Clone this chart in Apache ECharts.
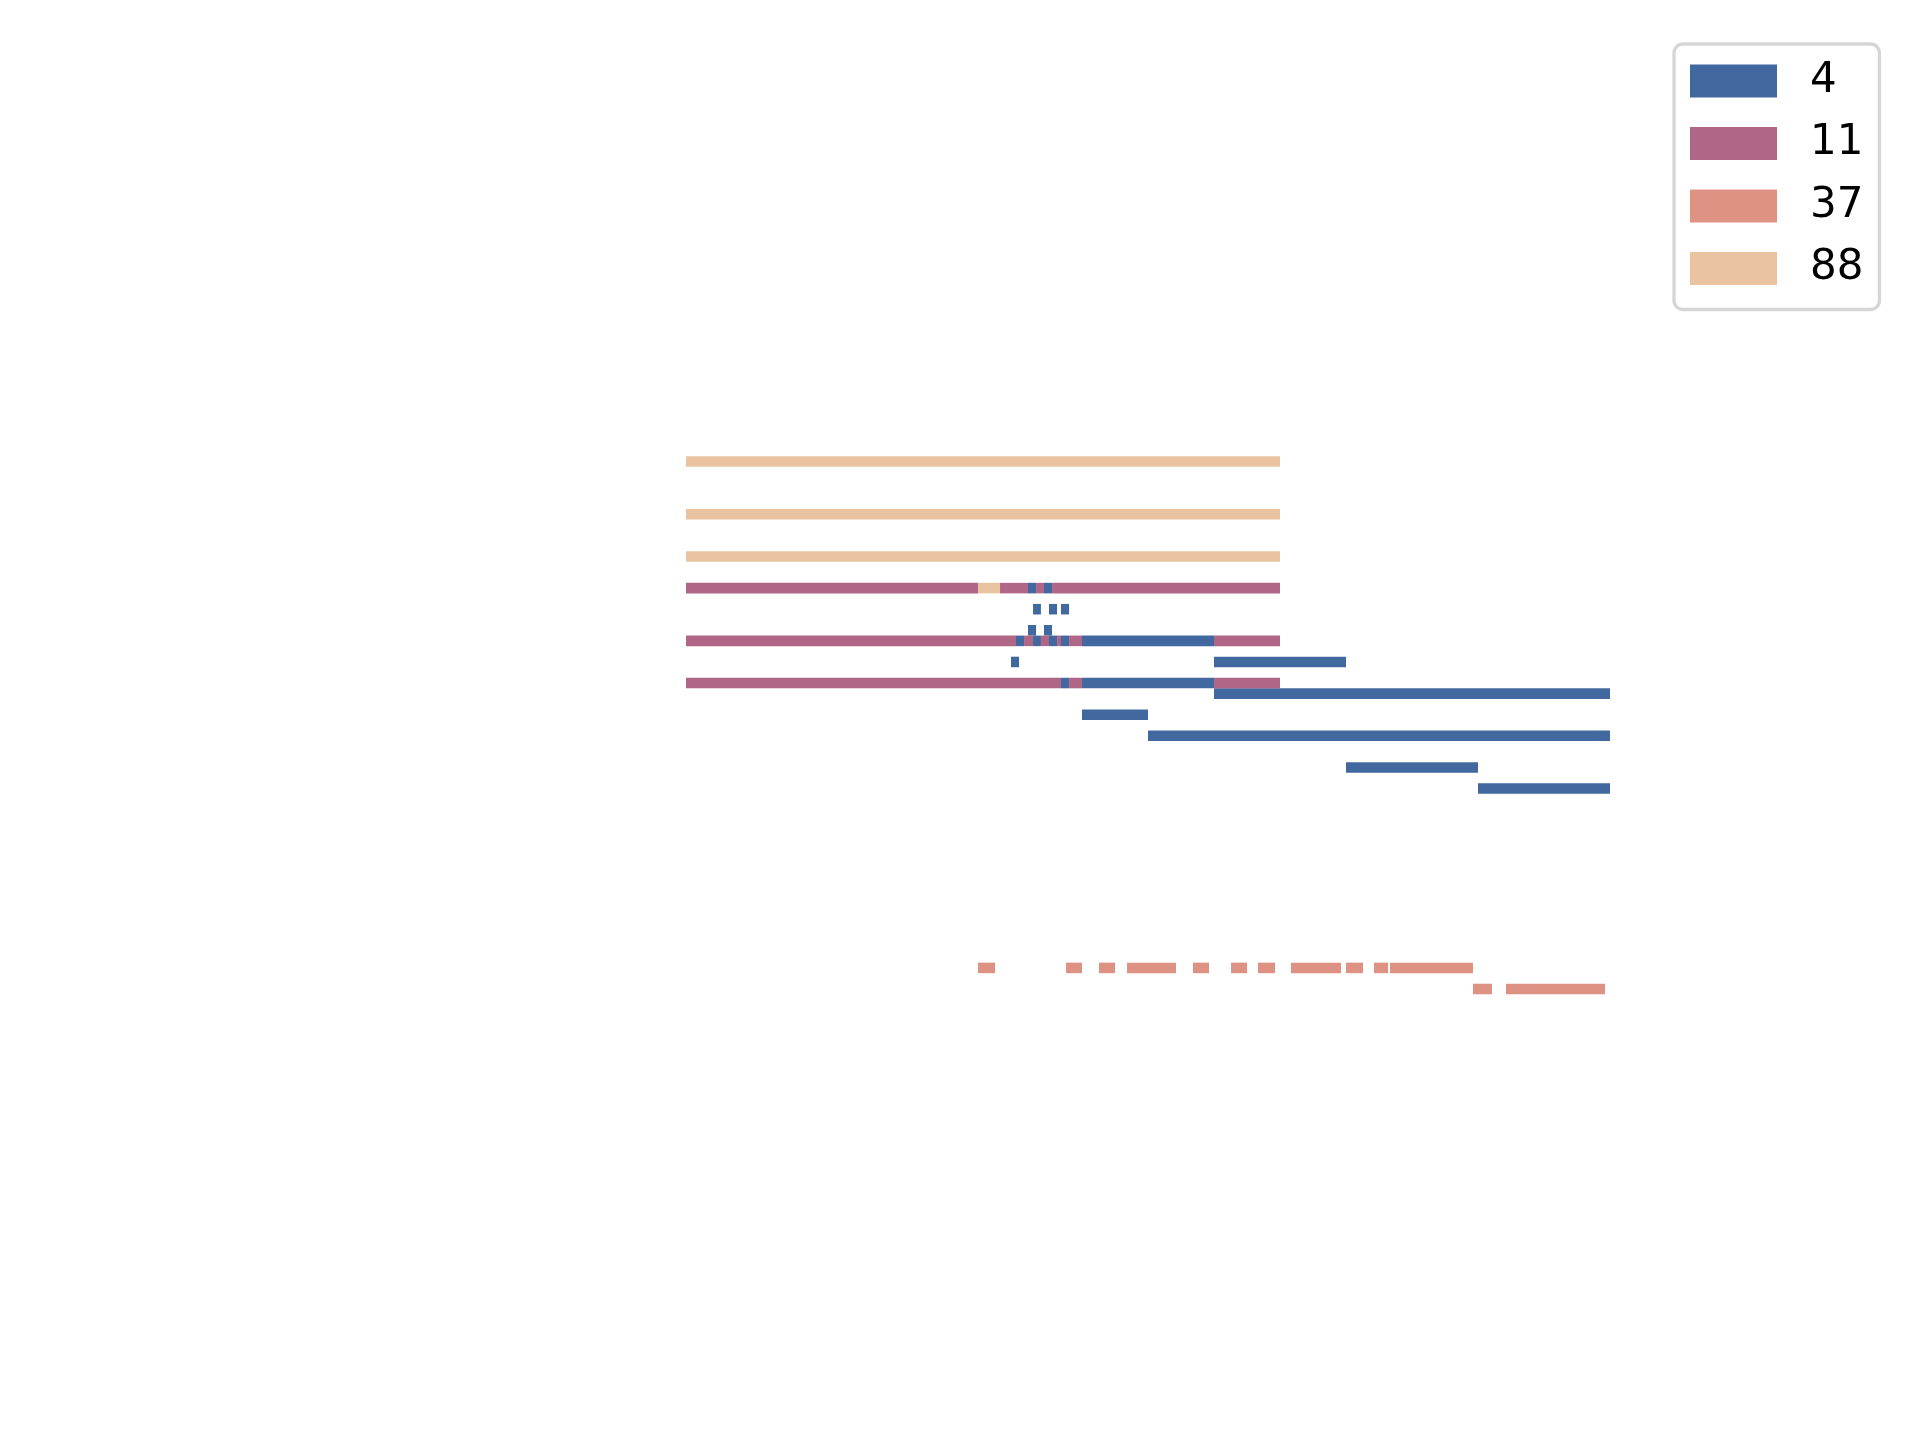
<!DOCTYPE html>
<html>
<head>
<meta charset="utf-8">
<script src="https://cdn.jsdelivr.net/npm/echarts@6/dist/echarts.min.js"></script>
<style>
html,body{margin:0;padding:0;background:#fff;}
#chart{width:1920px;height:1440px;}
</style>
</head>
<body>
<div id="chart"></div>
<script>
// Legend labels / categories
const categories = ['4', '11', '37', '88'];
const colors = ['#42699f', '#b06686', '#de9283', '#eac3a0'];

// Segments: [start, end, row]
const seg4 = [
  [25.91, 26.52, 12], [27.12, 27.73, 12],
  [26.29, 26.89, 14], [27.5, 28.11, 14], [28.41, 29.02, 14],
  [25.91, 26.52, 16], [27.12, 27.73, 16],
  [25.0, 25.61, 17], [26.29, 26.89, 17], [27.5, 28.11, 17], [28.41, 29.02, 17], [30, 40, 17],
  [24.62, 25.23, 19], [40, 50, 19],
  [28.41, 29.02, 21], [30, 40, 21],
  [40, 70, 22],
  [30, 35, 24],
  [35, 70, 26],
  [50, 60, 29],
  [60, 70, 31]
];
const seg11 = [
  [0, 22.12, 12], [23.79, 25.91, 12], [26.52, 27.12, 12], [27.73, 45, 12],
  [0, 25.0, 17], [25.61, 26.29, 17], [26.89, 27.5, 17], [28.11, 28.41, 17], [29.02, 30, 17], [40, 45, 17],
  [0, 28.41, 21], [29.02, 30, 21], [40, 45, 21]
];
const seg37 = [
  [22.12, 23.41, 48], [28.79, 30, 48], [31.29, 32.5, 48], [33.41, 37.12, 48],
  [38.41, 39.62, 48], [41.29, 42.5, 48], [43.33, 44.62, 48], [45.83, 49.62, 48],
  [50, 51.29, 48], [52.12, 53.18, 48], [53.33, 59.62, 48],
  [59.62, 61.06, 50], [62.12, 69.62, 50]
];
const seg88 = [
  [0, 45, 0], [0, 45, 5], [0, 45, 9], [22.12, 23.79, 12]
];

const allSegs = [seg4, seg11, seg37, seg88];

function renderItem(params, api) {
  const row = api.value(2);
  const s = api.coord([api.value(0), row]);
  const e = api.coord([api.value(1), row]);
  const h = api.size([0, 1])[1];
  return {
    type: 'rect',
    shape: { x: s[0], y: s[1] - h / 2, width: e[0] - s[0], height: h },
    style: { fill: api.visual('color') }
  };
}

const chart = echarts.init(document.getElementById('chart'), null, { renderer: 'canvas' });
chart.setOption({
  animation: false,
  backgroundColor: '#ffffff',
  grid: { left: 237.2, top: 176.65, width: 1478.4, height: 1107.75, containLabel: false },
  xAxis: { type: 'value', min: -34, max: 78, show: false, splitLine: { show: false } },
  yAxis: { type: 'value', min: -27, max: 78, inverse: true, show: false, splitLine: { show: false } },
  legend: {
    data: categories,
    orient: 'vertical',
    left: 1674,
    top: 44,
    icon: 'rect',
    itemWidth: 87,
    itemHeight: 33,
    itemGap: 20.5,
    padding: [16, 16, 20, 16],
    backgroundColor: '#ffffff',
    borderColor: '#d6d6d6',
    borderWidth: 3.3,
    borderRadius: 9,
    selectedMode: false,
    textStyle: {
      fontFamily: 'DejaVu Sans',
      fontSize: 42,
      color: '#000000',
      lineHeight: 33,
      padding: [0, 0, 0, 28]
    }
  },
  series: categories.map((name, i) => ({
    name: name,
    type: 'custom',
    renderItem: renderItem,
    itemStyle: { color: colors[i] },
    encode: { x: [0, 1], y: 2 },
    data: allSegs[i]
  }))
});
</script>
</body>
</html>
